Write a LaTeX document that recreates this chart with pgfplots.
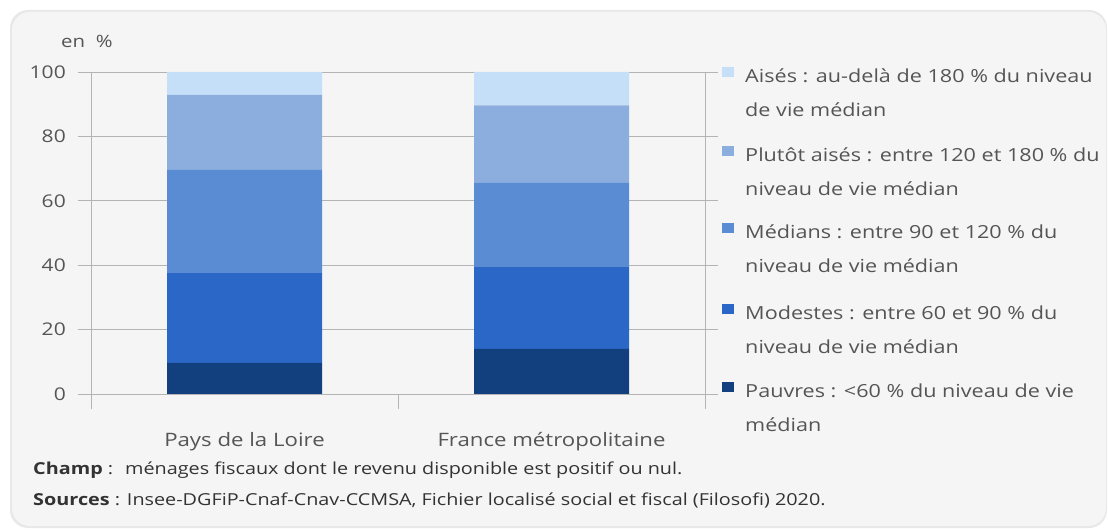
\documentclass[border=0pt]{standalone}
\usepackage{fontspec}
\setmainfont{Open Sans}
\usepackage{pgfplots}
\pgfplotsset{compat=1.18}
\definecolor{aises}{HTML}{C6DFF8}
\definecolor{plutot}{HTML}{8CAEDE}
\definecolor{medians}{HTML}{5A8CD4}
\definecolor{modestes}{HTML}{2A67C6}
\definecolor{pauvres}{HTML}{123F7D}
\definecolor{panel}{HTML}{F5F5F5}
\definecolor{gridgray}{HTML}{B4B4B4}
\definecolor{txt}{HTML}{555555}

\begin{document}
\begin{tikzpicture}[x=1pt,y=1pt]
\useasboundingbox (0,0) rectangle (1108,530);
\fill[white] (0,0) rectangle (1108,530);
\fill[black!9, rounded corners=18pt] (10,2) rectangle (1107,520);
\fill[panel, rounded corners=18pt] (12,4) rectangle (1106,518);

\node[anchor=base west, font=\fontsize{17}{20}\selectfont, text=txt, inner sep=0pt, xscale=1.2] at (61,482) {en~~\%};

\begin{axis}[
  at={(91pt,136pt)}, anchor=south west,
  scale only axis, width=614pt, height=322pt,
  ybar stacked, bar width=155pt,
  xmin=-0.5, xmax=1.5, ymin=0, ymax=100,
  xtick={0,1}, xticklabels={Pays de la Loire, France métropolitaine},
  x tick style={draw=none},
  ytick={0,20,40,60,80,100},
  ymajorgrids, grid style={gridgray, line width=0.8pt},
  tick align=outside, major tick length=13pt,
  y tick style={gridgray, line width=0.8pt},
  axis line style={gridgray, line width=0.8pt},
  /pgf/number format/assume math mode=true,
  tick label style={font=\fontsize{17.5}{20}\selectfont, text=txt, xscale=1.2},
  xticklabel style={yshift=-22pt, font=\fontsize{18.5}{20}\selectfont},
  yticklabel style={inner sep=0pt, xshift=-10pt},
  axis background/.style={fill=panel},
  clip=false,
]
\addplot[fill=pauvres, draw=none] coordinates {(0,9.7) (1,14.0)};
\addplot[fill=modestes, draw=none] coordinates {(0,27.8) (1,25.6)};
\addplot[fill=medians, draw=none] coordinates {(0,32.1) (1,26.0)};
\addplot[fill=plutot, draw=none] coordinates {(0,23.3) (1,24.0)};
\addplot[fill=aises, draw=none] coordinates {(0,7.1) (1,10.4)};
\draw[gridgray, line width=0.8pt] (axis cs:-0.5,0) -- ([yshift=-15pt]axis cs:-0.5,0);
\draw[gridgray, line width=0.8pt] (axis cs:0.5,0) -- ([yshift=-15pt]axis cs:0.5,0);
\draw[gridgray, line width=0.8pt] (axis cs:1.5,0) -- ([yshift=-15pt]axis cs:1.5,0);
\end{axis}

% legend (top entry first)
\foreach \c/\y/\a/\b in {
  aises/447/{Aisés : au-delà de 180 \% du niveau}/{de vie médian},
  plutot/368/{Plutôt aisés : entre 120 et 180 \% du}/{niveau de vie médian},
  medians/291/{Médians : entre 90 et 120 \% du}/{niveau de vie médian},
  modestes/210/{Modestes : entre 60 et 90 \% du}/{niveau de vie médian},
  pauvres/132/{Pauvres : <60 \% du niveau de vie}/{médian}} {
  \fill[\c] (722,\y+6) rectangle (734,\y+16);
  \node[anchor=base west, font=\fontsize{18}{20}\selectfont, text=txt, inner sep=0pt, xscale=1.2] at (745,\y) {\a};
  \node[anchor=base west, font=\fontsize{18}{20}\selectfont, text=txt, inner sep=0pt, xscale=1.2] at (745,\y-34) {\b};
}

\node[anchor=base west, font=\fontsize{16.5}{18}\selectfont, text=black!80, inner sep=0pt, xscale=1.2] at (33,55)
  {\textbf{Champ} :~ ménages fiscaux dont le revenu disponible est positif ou nul.};
\node[anchor=base west, font=\fontsize{16.5}{18}\selectfont, text=black!80, inner sep=0pt, xscale=1.2] at (33,24)
  {\textbf{Sources} : Insee-DGFiP-Cnaf-Cnav-CCMSA, Fichier localisé social et fiscal (Filosofi) 2020.};
\end{tikzpicture}
\end{document}
